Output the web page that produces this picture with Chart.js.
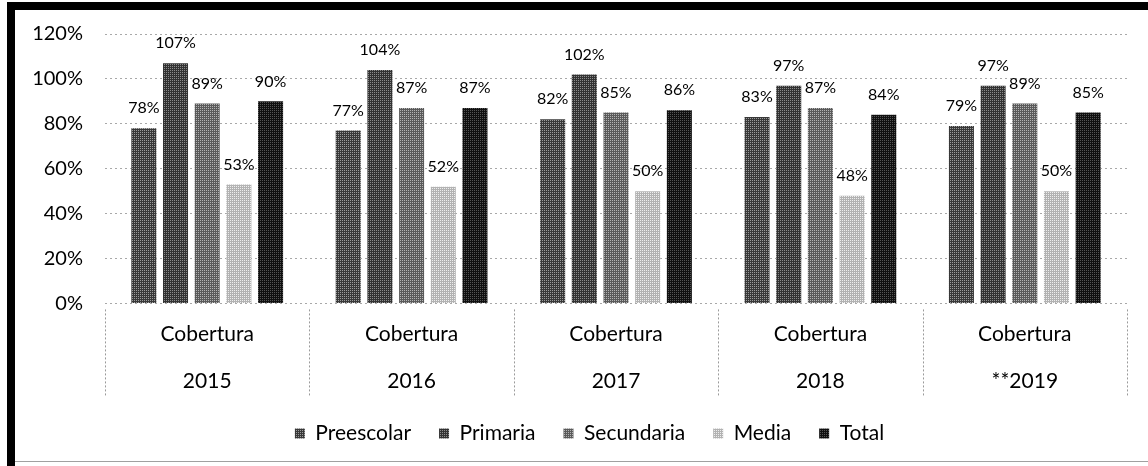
<!DOCTYPE html>
<html>
<head>
<meta charset="utf-8">
<title>Cobertura</title>
<script src="https://cdn.jsdelivr.net/npm/chart.js@4.4.1/dist/chart.umd.min.js"></script>
<style>
  html, body { margin: 0; padding: 0; background: #fff; }
  #contenedor { position: relative; width: 1148px; height: 466px; overflow: hidden; }
  #grafico { position: absolute; left: 0; top: 0; }
  /* marco negro del recuadro */
  #marco-sup { position: absolute; left: 7px; top: 2px; width: 1141px; height: 8px; background: #000; }
  #marco-izq { position: absolute; left: 7px; top: 2px; width: 8px; height: 464px; background: #000; }
  #marco-inf { position: absolute; left: 15px; top: 461px; width: 1133px; height: 1px; background: #a0a0a0; }
</style>
</head>
<body>
<div id="contenedor">
  <canvas id="grafico" width="1148" height="466"></canvas>
  <div id="marco-sup"></div>
  <div id="marco-izq"></div>
  <div id="marco-inf"></div>
</div>
<script>
// Datos de cobertura por nivel
var anios = ['2015', '2016', '2017', '2018', '**2019'];
var grupo = 'Cobertura';
var preescolar = [78, 77, 82, 83, 79];
var primaria   = [107, 104, 102, 97, 97];
var secundaria = [89, 87, 85, 87, 89];
var media      = [53, 52, 50, 48, 50];
var total      = [90, 87, 86, 84, 85];
var ticksY     = [0, 20, 40, 60, 80, 100, 120];

var fuente = 'Lato, "DejaVu Sans", sans-serif';

// trama gris con puntos claros (aspecto de impresion)
function trama(base, claro) {
  var c = document.createElement('canvas');
  c.width = 4; c.height = 4;
  var g = c.getContext('2d');
  var bayer = [[0, 8, 2, 10], [12, 4, 14, 6], [3, 11, 1, 9], [15, 7, 13, 5]];
  for (var y = 0; y < 4; y++) {
    for (var x = 0; x < 4; x++) {
      g.fillStyle = bayer[y][x] < 4 ? claro : base;
      g.fillRect(x, y, 1, 1);
    }
  }
  return g.createPattern(c, 'repeat');
}

var colores = [
  trama('#383838', '#9c9c9c'),
  trama('#323232', '#8c8c8c'),
  trama('#5a5a5a', '#b4b4b4'),
  trama('#b2b2b2', '#eeeeee'),
  trama('#101010', '#555555')
];

// etiquetas de valor sobre cada barra
var etiquetasValor = {
  id: 'etiquetasValor',
  afterDatasetsDraw: function (chart) {
    var ctx = chart.ctx;
    ctx.save();
    ctx.font = '16px ' + fuente;
    ctx.fillStyle = '#000';
    ctx.textAlign = 'center';
    ctx.textBaseline = 'middle';
    chart.data.datasets.forEach(function (ds, i) {
      chart.getDatasetMeta(i).data.forEach(function (barra, j) {
        ctx.fillText(ds.data[j] + '%', barra.x, barra.y - 20);
      });
    });
    ctx.restore();
  }
};

// lineas punteadas que separan las categorias bajo el eje
var separadores = {
  id: 'separadores',
  afterDraw: function (chart) {
    var ctx = chart.ctx;
    var area = chart.chartArea;
    var n = chart.data.labels.length;
    var ancho = (area.right - area.left) / n;
    ctx.save();
    ctx.strokeStyle = '#9a9a9a';
    ctx.lineWidth = 1;
    ctx.setLineDash([2, 2]);
    for (var i = 0; i <= n; i++) {
      var x = Math.round(area.left + i * ancho) + 0.5;
      ctx.beginPath();
      ctx.moveTo(x, area.bottom + 6);
      ctx.lineTo(x, area.bottom + 93);
      ctx.stroke();
    }
    ctx.restore();
  }
};

// la leyenda va un poco corrida a la derecha
var leyendaCorrida = {
  id: 'leyendaCorrida',
  afterLayout: function (chart) {
    if (chart.legend) {
      chart.legend.left += 10;
      chart.legend.right += 10;
    }
  }
};

var nombres = ['Preescolar', 'Primaria', 'Secundaria', 'Media', 'Total'];
var series = [preescolar, primaria, secundaria, media, total];

var ctx = document.getElementById('grafico').getContext('2d');
new Chart(ctx, {
  type: 'bar',
  data: {
    labels: anios.map(function (a) { return [grupo, a]; }),
    datasets: series.map(function (s, i) {
      return {
        label: nombres[i],
        data: s,
        backgroundColor: colores[i],
        borderWidth: 0,
        categoryPercentage: 0.775,
        barPercentage: 0.79
      };
    })
  },
  options: {
    responsive: false,
    animation: false,
    layout: { padding: { left: 32, right: 21, top: 34, bottom: 12 } },
    plugins: {
      tooltip: { enabled: false },
      legend: {
        position: 'bottom',
        labels: {
          boxWidth: 10,
          boxHeight: 10,
          padding: 28,
          color: '#000',
          font: { family: fuente, size: 21 }
        }
      }
    },
    scales: {
      x: {
        grid: { display: true, drawOnChartArea: false, tickLength: 17.5, tickColor: 'rgba(0,0,0,0)' },
        border: { display: false },
        ticks: {
          padding: -10,
          color: '#000',
          font: { family: fuente, size: 21, lineHeight: 2.24 }
        }
      },
      y: {
        min: 0,
        max: 120,
        afterFit: function (s) { s.width = 73; },
        afterBuildTicks: function (s) { s.ticks = ticksY.map(function (v) { return { value: v }; }); },
        grid: { color: '#a8a8a8', drawTicks: false },
        border: { display: false, dash: [2, 3] },
        ticks: {
          padding: 22,
          color: '#000',
          font: { family: fuente, size: 20 },
          callback: function (v) { return v + '%'; }
        }
      }
    }
  },
  plugins: [etiquetasValor, separadores, leyendaCorrida]
});
</script>
</body>
</html>
